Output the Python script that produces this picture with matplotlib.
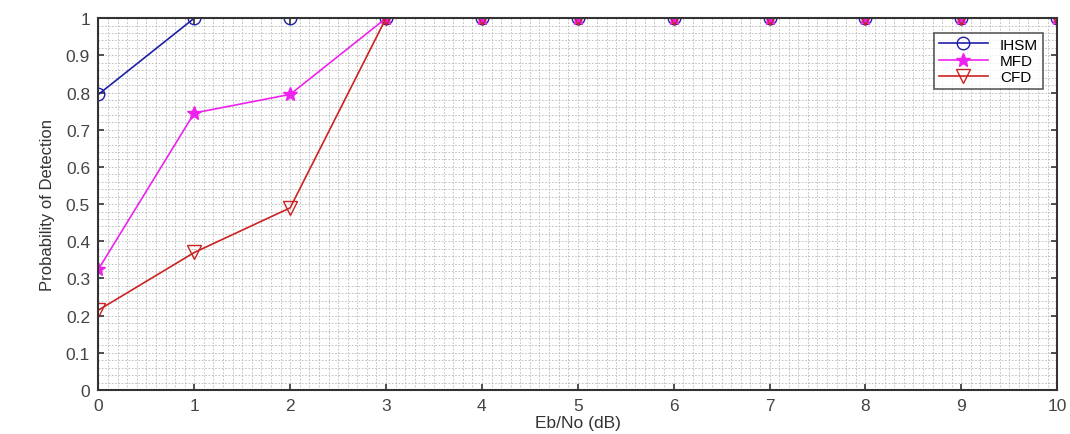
"""
detection probability vs Eb/No
"""

import matplotlib
matplotlib.use("Agg")
import matplotlib.pyplot as plt
from matplotlib.ticker import MultipleLocator

ebno = [0, 1, 2, 3, 4, 5, 6, 7, 8, 9, 10]
ihsm = [0.795, 1, 1, 1, 1, 1, 1, 1, 1, 1, 1]
mfd = [0.325, 0.745, 0.795, 1, 1, 1, 1, 1, 1, 1, 1]
cfd = [0.215, 0.37, 0.49, 1, 1, 1, 1, 1, 1, 1, 1]
yticks = [0, 0.1, 0.2, 0.3, 0.4, 0.5, 0.6, 0.7, 0.8, 0.9, 1]
ylabels = ["0", "0.1", "0.2", "0.3", "0.4", "0.5", "0.6", "0.7", "0.8", "0.9", "1"]

plt.rcParams["font.family"] = ["Liberation Sans", "DejaVu Sans"]

fig = plt.figure(figsize=(10.7, 4.35), dpi=100)
ax = fig.add_axes([0.092, 0.101, 0.896, 0.855])

ax.plot(ebno, ihsm, color="#1f1fa8", marker="o", markersize=9,
        markerfacecolor="none", linewidth=1.2, label="IHSM")
ax.plot(ebno, mfd, color="#ee22ee", marker="*", markersize=10,
        linewidth=1.2, label="MFD")
ax.plot(ebno, cfd, color="#cc2222", marker="v", markersize=10,
        markerfacecolor="none", linewidth=1.2, label="CFD")

ax.set_xlim(0, 10)
ax.set_ylim(0, 1)
ax.set_xticks(ebno)
ax.set_yticks(yticks)
ax.set_yticklabels(ylabels)
ax.xaxis.set_minor_locator(MultipleLocator(0.1))
ax.yaxis.set_minor_locator(MultipleLocator(0.02))
ax.grid(which="both", color="#b8b8b8", linestyle=(0, (2, 2)), linewidth=0.6)
ax.set_axisbelow(True)

ax.tick_params(which="major", direction="in", length=4, width=1.2,
               top=True, right=True, labelsize=12.5, colors="#333333",
               labelcolor="#444444", pad=6)
ax.tick_params(which="minor", length=0)
for s in ax.spines.values():
    s.set_linewidth(1.5)
    s.set_color("#333333")

ax.set_xlabel("Eb/No (dB)", fontsize=12.5, color="#333333", labelpad=1)
ax.set_ylabel("Probability of Detection", fontsize=12, color="#333333",
              fontstretch="condensed", labelpad=8)

leg = ax.legend(loc="upper right", bbox_to_anchor=(0.993, 0.98),
                fontsize=11, frameon=True, fancybox=False,
                edgecolor="#333333", borderpad=0.3, labelspacing=0.15,
                handlelength=3.2)
leg.get_frame().set_linewidth(1.2)

fig.savefig("out.png", dpi=100)
